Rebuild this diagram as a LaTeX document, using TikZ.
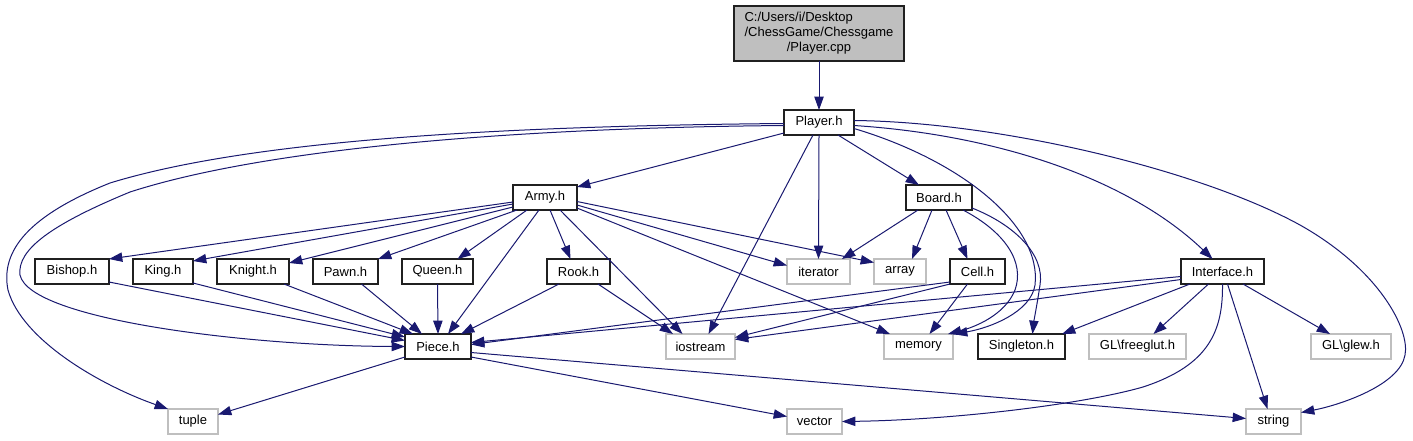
\documentclass[tikz,border=0pt]{standalone}
\usepackage{fontspec}
\setmainfont{Liberation Sans}
\usetikzlibrary{arrows.meta,calc}
\definecolor{edgeblue}{HTML}{191970}
\definecolor{extgray}{HTML}{BFBFBF}
\definecolor{boxline}{HTML}{202020}
\begin{document}
\begin{tikzpicture}[x=0.75pt,y=-0.75pt,
  every node/.style={font=\fontsize{9.75}{11.25}\selectfont, inner sep=0pt, outer sep=0pt},
  bw/.style={minimum width={#1*0.75}},
  hbox/.style={draw=boxline, fill=white, line width=0.8pt, minimum height={25*0.75}},
  ext/.style={draw=extgray, fill=white, line width=0.8pt, minimum height={25*0.75}},
  cppbox/.style={draw=boxline, fill=extgray, line width=0.8pt, minimum width={170*0.75}, minimum height={55*0.75}},
  dep/.style={draw=edgeblue, line width=0.75pt, -{Triangle[length=10pt,width=7pt]}}]
\useasboundingbox (0,0) rectangle (1413,440);
\fill[white] (0,0) rectangle (1413,440);

% nodes
\node[cppbox] (pcpp) at (819,33.5) {\begin{tabular}{@{}l@{}}C:/Users/i/Desktop\\/ChessGame/Chessgame\\\multicolumn{1}{@{}c@{}}{/Player.cpp}\end{tabular}};
\node[hbox,bw=70] (playerh) at (819,122.5) {Player.h};
\node[hbox,bw=64] (army) at (545,197.5) {Army.h};
\node[hbox,bw=66] (board) at (939,197.5) {Board.h};
\node[hbox,bw=74] (bishop) at (72,271.5) {Bishop.h};
\node[hbox,bw=60] (king) at (163,271.5) {King.h};
\node[hbox,bw=72] (knight) at (253,271.5) {Knight.h};
\node[hbox,bw=65] (pawn) at (345.5,271.5) {Pawn.h};
\node[hbox,bw=71] (queen) at (437.5,271.5) {Queen.h};
\node[hbox,bw=63] (rook) at (578.5,271.5) {Rook.h};
\node[ext,bw=63] (iterator) at (818.5,271.5) {iterator};
\node[ext,bw=52] (array) at (900,271.5) {array};
\node[hbox,bw=55] (cell) at (977.5,271.5) {Cell.h};
\node[hbox,bw=83] (interface) at (1222.5,271.5) {Interface.h};
\node[hbox,bw=66] (piece) at (438,346.5) {Piece.h};
\node[ext,bw=69] (iostream) at (700.5,346.5) {iostream};
\node[ext,bw=69] (memory) at (918.5,346.5) {memory};
\node[hbox,bw=87] (singleton) at (1021.5,346.5) {Singleton.h};
\node[ext,bw=97] (freeglut) at (1137.5,346.5) {GL\textbackslash freeglut.h};
\node[ext,bw=80] (glew) at (1351,346.5) {GL\textbackslash glew.h};
\node[ext,bw=50] (tuple) at (193,421.5) {tuple};
\node[ext,bw=55] (vector) at (814.5,421.5) {vector};
\node[ext,bw=55] (string) at (1273.5,421.5) {string};

% Player.cpp
\draw[dep] (pcpp.south) -- (playerh.north);

% Player.h
\draw[dep] ($(playerh.south west)+(0,-2)$) -- ($(army.north east)+(0,2)$);
\draw[dep] ($(playerh.south)+(19,0)$) -- ($(board.north west)+(13,0)$);
\draw[dep] (playerh.south) -- (iterator.north);
\draw[dep] ($(playerh.south)+(-6,0)$) -- ($(iostream.north)+(8,0)$);
\draw[dep] ($(playerh.east)+(0,6)$) .. controls (960,160) and (1042,225) .. (1035,285)
  .. controls (1031,312) and (990,328) .. ($(memory.north east)+(1,0)$);
\draw[dep] ($(playerh.east)+(0,3)$) .. controls (1000,135) and (1130,180) .. ($(interface.north)+(-10,0)$);
\draw[dep] ($(playerh.east)+(0,-2)$) .. controls (1000,122) and (1200,170) .. (1300,225)
  .. controls (1380,270) and (1410,330) .. (1405,355)
  .. controls (1400,385) and (1340,405) .. ($(string.east)+(0,-9)$);
\draw[dep] ($(playerh.west)+(0,1)$) .. controls (500,126) and (250,140) .. (110,183)
  .. controls (30,215) and (0,250) .. (8,290)
  .. controls (22,340) and (100,385) .. (tuple.north west);
\draw[dep] ($(playerh.west)+(0,3)$) .. controls (500,128) and (260,150) .. (130,192)
  .. controls (50,225) and (17,250) .. (20,275)
  .. controls (30,320) and (250,346) .. (piece.west);

% Army.h
\draw[dep] ($(army.west)+(0,4.5)$) -- (bishop.north east);
\draw[dep] ($(army.west)+(0,6.5)$) -- ($(king.north east)+(0,2)$);
\draw[dep] ($(army.west)+(0,9.5)$) -- ($(knight.north east)+(0,4)$);
\draw[dep] ($(army.south west)+(4,0)$) -- (pawn.north east);
\draw[dep] ($(army.south west)+(14,0)$) -- ($(queen.north)+(20,0)$);
\draw[dep] ($(army.south west)+(26,0)$) -- ($(piece.north)+(10,0)$);
\draw[dep] ($(army.south)+(5,0)$) -- ($(rook.north)+(-8,0)$);
\draw[dep] ($(army.south)+(15,0)$) -- ($(iostream.north)+(-18,0)$);
\draw[dep] ($(army.south east)+(0,-2)$) -- ($(memory.north west)+(6,0)$);
\draw[dep] ($(army.east)+(0,7.5)$) -- ($(iterator.west)+(0,-6)$);
\draw[dep] ($(army.east)+(0,4)$) -- ($(array.west)+(0,-9)$);

% Board.h
\draw[dep] ($(board.south west)+(12,0)$) -- ($(iterator.north east)+(-8,0)$);
\draw[dep] ($(board.south)+(-7,0)$) -- ($(array.north)+(12,0)$);
\draw[dep] ($(board.south)+(7,0)$) -- ($(cell.north)+(-10,0)$);
\draw[dep] ($(board.south east)+(-9,0)$) .. controls (1005,232) and (1025,262) .. (1015,290)
  .. controls (1005,315) and (975,327) .. ($(memory.north east)+(-5,0)$);
\draw[dep] ($(board.south east)+(0,-2)$) .. controls (1015,225) and (1045,255) .. (1040,285)
  .. controls (1037,305) and (1034,320) .. ($(singleton.north)+(11,0)$);

% leaf headers -> Piece.h
\draw[dep] ($(bishop.south east)+(0,-2)$) -- ($(piece.west)+(0,-6)$);
\draw[dep] ($(king.south east)+(0,-1)$) -- ($(piece.north west)+(0,3)$);
\draw[dep] ($(knight.south east)+(-5,0)$) -- ($(piece.north west)+(8,0)$);
\draw[dep] ($(pawn.south)+(16,0)$) -- ($(piece.north west)+(17,0)$);
\draw[dep] (queen.south) -- (piece.north);
\draw[dep] ($(rook.south west)+(12,0)$) -- ($(piece.north east)+(-10,0)$);
\draw[dep] ($(rook.south east)+(-12,0)$) -- ($(iostream.north west)+(7,0)$);

% Cell.h
\draw[dep] ($(cell.south west)+(0,-2)$) -- ($(piece.east)+(0,-2)$);
\draw[dep] (cell.south west) -- ($(iostream.east)+(0,-9)$);
\draw[dep] ($(cell.south)+(-10,0)$) -- ($(memory.north)+(11,0)$);

% Interface.h
\draw[dep] ($(interface.west)+(0,5)$) -- ($(piece.east)+(0,-4)$);
\draw[dep] ($(interface.west)+(0,8)$) -- ($(iostream.east)+(0,-7)$);
\draw[dep] ($(interface.south west)+(9,0)$) -- ($(singleton.north east)+(-3,0)$);
\draw[dep] ($(interface.south)+(-14,0)$) -- ($(freeglut.north)+(16,0)$);
\draw[dep] ($(interface.south east)+(-21,0)$) -- ($(glew.north)+(-21,0)$);
\draw[dep] ($(interface.south)+(5,0)$) -- ($(string.north)+(-6,0)$);
\draw[dep] (interface.south) .. controls (1223,330) and (1210,365) .. (1143,387)
  .. controls (1080,405) and (950,420) .. (vector.east);

% Piece.h
\draw[dep] ($(piece.south west)+(0,-2)$) -- ($(tuple.east)+(0,-7)$);
\draw[dep] ($(piece.south east)+(0,-2)$) -- ($(vector.west)+(0,-5)$);
\draw[dep] ($(piece.east)+(0,6)$) -- ($(string.west)+(0,-3)$);
\end{tikzpicture}
\end{document}
